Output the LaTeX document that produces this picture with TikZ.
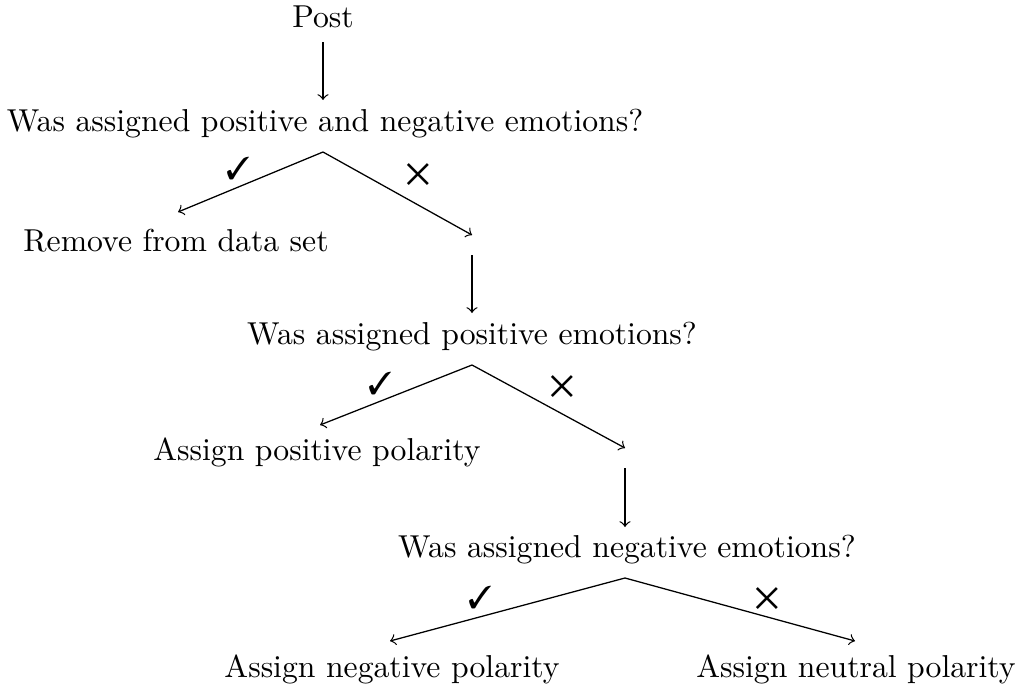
\documentclass[tikz,border=0pt]{standalone}
\usepackage{pifont}
\tikzset{
  lbl/.style={anchor=base, inner sep=0pt, font=\fontsize{10pt}{12pt}\selectfont},
  sym/.style={inner sep=0pt, font=\fontsize{10pt}{12pt}\selectfont},
  arr/.style={->, line width=0.4pt}
}
\begin{document}
\begin{tikzpicture}[x=0.3155pt, y=-0.3155pt]
\useasboundingbox (0,0) rectangle (1019,684);
% text nodes
\node[lbl] (post) at (323,27) {Post};
\node[lbl] (q1) at (325,131) {Was assigned positive and negative emotions?};
\node[lbl] (rm) at (176,251) {Remove from data set};
\node[lbl] (q2) at (472,344) {Was assigned positive emotions?};
\node[lbl] (pos) at (317,460) {Assign positive polarity};
\node[lbl] (q3) at (627,557) {Was assigned negative emotions?};
\node[lbl] (neg) at (392,677) {Assign negative polarity};
\node[lbl] (neu) at (856,677) {Assign neutral polarity};
% junction coordinates
\coordinate (postb) at (323,42);
\coordinate (q1t) at (323,100);
\coordinate (q1b) at (323,152);
\coordinate (rmt) at (178,212);
\coordinate (e1) at (472,235);
\coordinate (e1b) at (472,255);
\coordinate (q2t) at (472,313);
\coordinate (q2b) at (472,365);
\coordinate (post2) at (320,425);
\coordinate (e2) at (625,448);
\coordinate (e2b) at (625,468);
\coordinate (q3t) at (625,527);
\coordinate (q3b) at (625,578);
\coordinate (negt) at (390,641);
\coordinate (neut) at (855,641);
% connectors
\draw[arr] (postb) -- (q1t);
\draw[arr] (q1b) -- (rmt);
\draw[arr] (q1b) -- (e1);
\draw[arr] (e1b) -- (q2t);
\draw[arr] (q2b) -- (post2);
\draw[arr] (q2b) -- (e2);
\draw[arr] (e2b) -- (q3t);
\draw[arr] (q3b) -- (negt);
\draw[arr] (q3b) -- (neut);
% marks
\node[sym] (y1) at (238,168) {\ding{51}};
\node[sym] (n1) at (418,174) {\ding{53}};
\node[sym] (y2) at (380,383) {\ding{51}};
\node[sym] (n2) at (562,386) {\ding{53}};
\node[sym] (y3) at (480,597) {\ding{51}};
\node[sym] (n3) at (767,598) {\ding{53}};
\end{tikzpicture}
\end{document}
